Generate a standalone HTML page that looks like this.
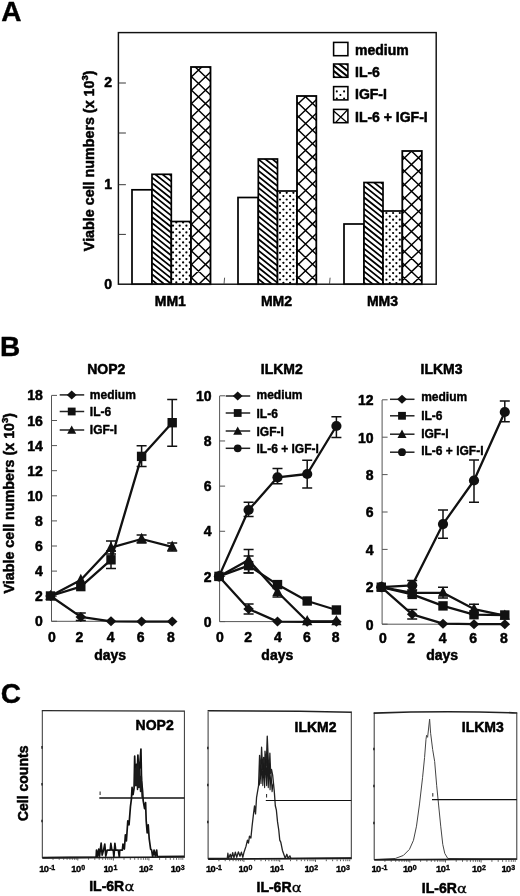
<!DOCTYPE html>
<html lang="en"><head><meta charset="utf-8"><title>Figure</title>
<style>html,body{margin:0;padding:0;background:#fff;}body{width:520px;height:896px;overflow:hidden;}svg{display:block;font-family:'Liberation Sans', Arial, Helvetica, sans-serif;}</style>
</head><body>
<svg width="520" height="896" viewBox="0 0 520 896">
<rect x="0" y="0" width="520" height="896" fill="#fff"/>
<text x="1.3" y="21.2" font-size="28" font-weight="bold" text-anchor="start" fill="#000" stroke="#000" stroke-width="0.4" stroke-linejoin="round" >A</text>
<rect x="132" y="189.8" width="20.00" height="94.40" fill="#fff"/><rect x="132" y="189.8" width="20.00" height="94.40" fill="none" stroke="#000" stroke-width="1.7"/>
<rect x="152" y="174.3" width="19.30" height="109.90" fill="#fff"/><clipPath id="c1"><rect x="152" y="174.3" width="19.30" height="109.90"/></clipPath><path d="M152.00,160.30 L171.30,175.74 M152.00,166.00 L171.30,181.44 M152.00,171.70 L171.30,187.14 M152.00,177.40 L171.30,192.84 M152.00,183.10 L171.30,198.54 M152.00,188.80 L171.30,204.24 M152.00,194.50 L171.30,209.94 M152.00,200.20 L171.30,215.64 M152.00,205.90 L171.30,221.34 M152.00,211.60 L171.30,227.04 M152.00,217.30 L171.30,232.74 M152.00,223.00 L171.30,238.44 M152.00,228.70 L171.30,244.14 M152.00,234.40 L171.30,249.84 M152.00,240.10 L171.30,255.54 M152.00,245.80 L171.30,261.24 M152.00,251.50 L171.30,266.94 M152.00,257.20 L171.30,272.64 M152.00,262.90 L171.30,278.34 M152.00,268.60 L171.30,284.04 M152.00,274.30 L171.30,289.74 M152.00,280.00 L171.30,295.44 M152.00,285.70 L171.30,301.14 " stroke="#000" stroke-width="1.75" fill="none" clip-path="url(#c1)"/><rect x="152" y="174.3" width="19.30" height="109.90" fill="none" stroke="#000" stroke-width="1.7"/>
<rect x="171.3" y="221.5" width="19.70" height="62.70" fill="#fff"/><clipPath id="c2"><rect x="171.3" y="221.5" width="19.70" height="62.70"/></clipPath><g fill="#000" clip-path="url(#c2)"><circle cx="176.3" cy="222.4" r="1.12"/><circle cx="183.1" cy="222.4" r="1.12"/><circle cx="189.8" cy="222.4" r="1.12"/><circle cx="173.0" cy="225.7" r="1.12"/><circle cx="179.7" cy="225.7" r="1.12"/><circle cx="186.4" cy="225.7" r="1.12"/><circle cx="176.3" cy="229.0" r="1.12"/><circle cx="183.1" cy="229.0" r="1.12"/><circle cx="189.8" cy="229.0" r="1.12"/><circle cx="173.0" cy="232.4" r="1.12"/><circle cx="179.7" cy="232.4" r="1.12"/><circle cx="186.4" cy="232.4" r="1.12"/><circle cx="176.3" cy="235.7" r="1.12"/><circle cx="183.1" cy="235.7" r="1.12"/><circle cx="189.8" cy="235.7" r="1.12"/><circle cx="173.0" cy="239.0" r="1.12"/><circle cx="179.7" cy="239.0" r="1.12"/><circle cx="186.4" cy="239.0" r="1.12"/><circle cx="176.3" cy="242.4" r="1.12"/><circle cx="183.1" cy="242.4" r="1.12"/><circle cx="189.8" cy="242.4" r="1.12"/><circle cx="173.0" cy="245.7" r="1.12"/><circle cx="179.7" cy="245.7" r="1.12"/><circle cx="186.4" cy="245.7" r="1.12"/><circle cx="176.3" cy="249.0" r="1.12"/><circle cx="183.1" cy="249.0" r="1.12"/><circle cx="189.8" cy="249.0" r="1.12"/><circle cx="173.0" cy="252.4" r="1.12"/><circle cx="179.7" cy="252.4" r="1.12"/><circle cx="186.4" cy="252.4" r="1.12"/><circle cx="176.3" cy="255.7" r="1.12"/><circle cx="183.1" cy="255.7" r="1.12"/><circle cx="189.8" cy="255.7" r="1.12"/><circle cx="173.0" cy="259.1" r="1.12"/><circle cx="179.7" cy="259.1" r="1.12"/><circle cx="186.4" cy="259.1" r="1.12"/><circle cx="176.3" cy="262.4" r="1.12"/><circle cx="183.1" cy="262.4" r="1.12"/><circle cx="189.8" cy="262.4" r="1.12"/><circle cx="173.0" cy="265.7" r="1.12"/><circle cx="179.7" cy="265.7" r="1.12"/><circle cx="186.4" cy="265.7" r="1.12"/><circle cx="176.3" cy="269.1" r="1.12"/><circle cx="183.1" cy="269.1" r="1.12"/><circle cx="189.8" cy="269.1" r="1.12"/><circle cx="173.0" cy="272.4" r="1.12"/><circle cx="179.7" cy="272.4" r="1.12"/><circle cx="186.4" cy="272.4" r="1.12"/><circle cx="176.3" cy="275.7" r="1.12"/><circle cx="183.1" cy="275.7" r="1.12"/><circle cx="189.8" cy="275.7" r="1.12"/><circle cx="173.0" cy="279.1" r="1.12"/><circle cx="179.7" cy="279.1" r="1.12"/><circle cx="186.4" cy="279.1" r="1.12"/><circle cx="176.3" cy="282.4" r="1.12"/><circle cx="183.1" cy="282.4" r="1.12"/><circle cx="189.8" cy="282.4" r="1.12"/><circle cx="173.0" cy="285.7" r="1.12"/><circle cx="179.7" cy="285.7" r="1.12"/><circle cx="186.4" cy="285.7" r="1.12"/></g><rect x="171.3" y="221.5" width="19.70" height="62.70" fill="none" stroke="#000" stroke-width="1.7"/>
<rect x="191" y="67" width="19.50" height="217.20" fill="#fff"/><clipPath id="c3"><rect x="191" y="67" width="19.50" height="217.20"/></clipPath><path d="M191.00,9.32 L210.50,27.99 M191.00,23.68 L210.50,5.01 M191.00,22.72 L210.50,41.39 M191.00,37.08 L210.50,18.41 M191.00,36.12 L210.50,54.79 M191.00,50.48 L210.50,31.81 M191.00,49.52 L210.50,68.19 M191.00,63.88 L210.50,45.21 M191.00,62.92 L210.50,81.59 M191.00,77.28 L210.50,58.61 M191.00,76.32 L210.50,94.99 M191.00,90.68 L210.50,72.01 M191.00,89.72 L210.50,108.39 M191.00,104.08 L210.50,85.41 M191.00,103.12 L210.50,121.79 M191.00,117.48 L210.50,98.81 M191.00,116.52 L210.50,135.19 M191.00,130.88 L210.50,112.21 M191.00,129.92 L210.50,148.59 M191.00,144.28 L210.50,125.61 M191.00,143.32 L210.50,161.99 M191.00,157.68 L210.50,139.01 M191.00,156.72 L210.50,175.39 M191.00,171.08 L210.50,152.41 M191.00,170.12 L210.50,188.79 M191.00,184.48 L210.50,165.81 M191.00,183.52 L210.50,202.19 M191.00,197.88 L210.50,179.21 M191.00,196.92 L210.50,215.59 M191.00,211.28 L210.50,192.61 M191.00,210.32 L210.50,228.99 M191.00,224.68 L210.50,206.01 M191.00,223.72 L210.50,242.39 M191.00,238.08 L210.50,219.41 M191.00,237.12 L210.50,255.79 M191.00,251.48 L210.50,232.81 M191.00,250.52 L210.50,269.19 M191.00,264.88 L210.50,246.21 M191.00,263.92 L210.50,282.59 M191.00,278.28 L210.50,259.61 M191.00,277.32 L210.50,295.99 M191.00,291.68 L210.50,273.01 " stroke="#000" stroke-width="1.45" fill="none" clip-path="url(#c3)"/><rect x="191" y="67" width="19.50" height="217.20" fill="none" stroke="#000" stroke-width="1.8"/>
<rect x="238" y="197.5" width="20.30" height="86.70" fill="#fff"/><rect x="238" y="197.5" width="20.30" height="86.70" fill="none" stroke="#000" stroke-width="1.7"/>
<rect x="258.3" y="159" width="19.20" height="125.20" fill="#fff"/><clipPath id="c5"><rect x="258.3" y="159" width="19.20" height="125.20"/></clipPath><path d="M258.30,142.14 L277.50,157.50 M258.30,147.84 L277.50,163.20 M258.30,153.54 L277.50,168.90 M258.30,159.24 L277.50,174.60 M258.30,164.94 L277.50,180.30 M258.30,170.64 L277.50,186.00 M258.30,176.34 L277.50,191.70 M258.30,182.04 L277.50,197.40 M258.30,187.74 L277.50,203.10 M258.30,193.44 L277.50,208.80 M258.30,199.14 L277.50,214.50 M258.30,204.84 L277.50,220.20 M258.30,210.54 L277.50,225.90 M258.30,216.24 L277.50,231.60 M258.30,221.94 L277.50,237.30 M258.30,227.64 L277.50,243.00 M258.30,233.34 L277.50,248.70 M258.30,239.04 L277.50,254.40 M258.30,244.74 L277.50,260.10 M258.30,250.44 L277.50,265.80 M258.30,256.14 L277.50,271.50 M258.30,261.84 L277.50,277.20 M258.30,267.54 L277.50,282.90 M258.30,273.24 L277.50,288.60 M258.30,278.94 L277.50,294.30 M258.30,284.64 L277.50,300.00 " stroke="#000" stroke-width="1.75" fill="none" clip-path="url(#c5)"/><rect x="258.3" y="159" width="19.20" height="125.20" fill="none" stroke="#000" stroke-width="1.7"/>
<rect x="277.5" y="191" width="19.50" height="93.20" fill="#fff"/><clipPath id="c6"><rect x="277.5" y="191" width="19.50" height="93.20"/></clipPath><g fill="#000" clip-path="url(#c6)"><circle cx="280.0" cy="192.8" r="1.12"/><circle cx="286.7" cy="192.8" r="1.12"/><circle cx="293.4" cy="192.8" r="1.12"/><circle cx="276.6" cy="196.1" r="1.12"/><circle cx="283.4" cy="196.1" r="1.12"/><circle cx="290.1" cy="196.1" r="1.12"/><circle cx="296.8" cy="196.1" r="1.12"/><circle cx="280.0" cy="199.5" r="1.12"/><circle cx="286.7" cy="199.5" r="1.12"/><circle cx="293.4" cy="199.5" r="1.12"/><circle cx="276.6" cy="202.8" r="1.12"/><circle cx="283.4" cy="202.8" r="1.12"/><circle cx="290.1" cy="202.8" r="1.12"/><circle cx="296.8" cy="202.8" r="1.12"/><circle cx="280.0" cy="206.1" r="1.12"/><circle cx="286.7" cy="206.1" r="1.12"/><circle cx="293.4" cy="206.1" r="1.12"/><circle cx="276.6" cy="209.5" r="1.12"/><circle cx="283.4" cy="209.5" r="1.12"/><circle cx="290.1" cy="209.5" r="1.12"/><circle cx="296.8" cy="209.5" r="1.12"/><circle cx="280.0" cy="212.8" r="1.12"/><circle cx="286.7" cy="212.8" r="1.12"/><circle cx="293.4" cy="212.8" r="1.12"/><circle cx="276.6" cy="216.1" r="1.12"/><circle cx="283.4" cy="216.1" r="1.12"/><circle cx="290.1" cy="216.1" r="1.12"/><circle cx="296.8" cy="216.1" r="1.12"/><circle cx="280.0" cy="219.5" r="1.12"/><circle cx="286.7" cy="219.5" r="1.12"/><circle cx="293.4" cy="219.5" r="1.12"/><circle cx="276.6" cy="222.8" r="1.12"/><circle cx="283.4" cy="222.8" r="1.12"/><circle cx="290.1" cy="222.8" r="1.12"/><circle cx="296.8" cy="222.8" r="1.12"/><circle cx="280.0" cy="226.2" r="1.12"/><circle cx="286.7" cy="226.2" r="1.12"/><circle cx="293.4" cy="226.2" r="1.12"/><circle cx="276.6" cy="229.5" r="1.12"/><circle cx="283.4" cy="229.5" r="1.12"/><circle cx="290.1" cy="229.5" r="1.12"/><circle cx="296.8" cy="229.5" r="1.12"/><circle cx="280.0" cy="232.8" r="1.12"/><circle cx="286.7" cy="232.8" r="1.12"/><circle cx="293.4" cy="232.8" r="1.12"/><circle cx="276.6" cy="236.2" r="1.12"/><circle cx="283.4" cy="236.2" r="1.12"/><circle cx="290.1" cy="236.2" r="1.12"/><circle cx="296.8" cy="236.2" r="1.12"/><circle cx="280.0" cy="239.5" r="1.12"/><circle cx="286.7" cy="239.5" r="1.12"/><circle cx="293.4" cy="239.5" r="1.12"/><circle cx="276.6" cy="242.8" r="1.12"/><circle cx="283.4" cy="242.8" r="1.12"/><circle cx="290.1" cy="242.8" r="1.12"/><circle cx="296.8" cy="242.8" r="1.12"/><circle cx="280.0" cy="246.2" r="1.12"/><circle cx="286.7" cy="246.2" r="1.12"/><circle cx="293.4" cy="246.2" r="1.12"/><circle cx="276.6" cy="249.5" r="1.12"/><circle cx="283.4" cy="249.5" r="1.12"/><circle cx="290.1" cy="249.5" r="1.12"/><circle cx="296.8" cy="249.5" r="1.12"/><circle cx="280.0" cy="252.8" r="1.12"/><circle cx="286.7" cy="252.8" r="1.12"/><circle cx="293.4" cy="252.8" r="1.12"/><circle cx="276.6" cy="256.2" r="1.12"/><circle cx="283.4" cy="256.2" r="1.12"/><circle cx="290.1" cy="256.2" r="1.12"/><circle cx="296.8" cy="256.2" r="1.12"/><circle cx="280.0" cy="259.5" r="1.12"/><circle cx="286.7" cy="259.5" r="1.12"/><circle cx="293.4" cy="259.5" r="1.12"/><circle cx="276.6" cy="262.8" r="1.12"/><circle cx="283.4" cy="262.8" r="1.12"/><circle cx="290.1" cy="262.8" r="1.12"/><circle cx="296.8" cy="262.8" r="1.12"/><circle cx="280.0" cy="266.2" r="1.12"/><circle cx="286.7" cy="266.2" r="1.12"/><circle cx="293.4" cy="266.2" r="1.12"/><circle cx="276.6" cy="269.5" r="1.12"/><circle cx="283.4" cy="269.5" r="1.12"/><circle cx="290.1" cy="269.5" r="1.12"/><circle cx="296.8" cy="269.5" r="1.12"/><circle cx="280.0" cy="272.8" r="1.12"/><circle cx="286.7" cy="272.8" r="1.12"/><circle cx="293.4" cy="272.8" r="1.12"/><circle cx="276.6" cy="276.2" r="1.12"/><circle cx="283.4" cy="276.2" r="1.12"/><circle cx="290.1" cy="276.2" r="1.12"/><circle cx="296.8" cy="276.2" r="1.12"/><circle cx="280.0" cy="279.5" r="1.12"/><circle cx="286.7" cy="279.5" r="1.12"/><circle cx="293.4" cy="279.5" r="1.12"/><circle cx="276.6" cy="282.8" r="1.12"/><circle cx="283.4" cy="282.8" r="1.12"/><circle cx="290.1" cy="282.8" r="1.12"/><circle cx="296.8" cy="282.8" r="1.12"/><circle cx="280.0" cy="286.2" r="1.12"/><circle cx="286.7" cy="286.2" r="1.12"/><circle cx="293.4" cy="286.2" r="1.12"/></g><rect x="277.5" y="191" width="19.50" height="93.20" fill="none" stroke="#000" stroke-width="1.7"/>
<rect x="297" y="96" width="19.30" height="188.20" fill="#fff"/><clipPath id="c7"><rect x="297" y="96" width="19.30" height="188.20"/></clipPath><path d="M297.00,34.96 L316.30,53.44 M297.00,51.24 L316.30,32.76 M297.00,48.36 L316.30,66.84 M297.00,64.64 L316.30,46.16 M297.00,61.76 L316.30,80.24 M297.00,78.04 L316.30,59.56 M297.00,75.16 L316.30,93.64 M297.00,91.44 L316.30,72.96 M297.00,88.56 L316.30,107.04 M297.00,104.84 L316.30,86.36 M297.00,101.96 L316.30,120.44 M297.00,118.24 L316.30,99.76 M297.00,115.36 L316.30,133.84 M297.00,131.64 L316.30,113.16 M297.00,128.76 L316.30,147.24 M297.00,145.04 L316.30,126.56 M297.00,142.16 L316.30,160.64 M297.00,158.44 L316.30,139.96 M297.00,155.56 L316.30,174.04 M297.00,171.84 L316.30,153.36 M297.00,168.96 L316.30,187.44 M297.00,185.24 L316.30,166.76 M297.00,182.36 L316.30,200.84 M297.00,198.64 L316.30,180.16 M297.00,195.76 L316.30,214.24 M297.00,212.04 L316.30,193.56 M297.00,209.16 L316.30,227.64 M297.00,225.44 L316.30,206.96 M297.00,222.56 L316.30,241.04 M297.00,238.84 L316.30,220.36 M297.00,235.96 L316.30,254.44 M297.00,252.24 L316.30,233.76 M297.00,249.36 L316.30,267.84 M297.00,265.64 L316.30,247.16 M297.00,262.76 L316.30,281.24 M297.00,279.04 L316.30,260.56 M297.00,276.16 L316.30,294.64 M297.00,292.44 L316.30,273.96 " stroke="#000" stroke-width="1.45" fill="none" clip-path="url(#c7)"/><rect x="297" y="96" width="19.30" height="188.20" fill="none" stroke="#000" stroke-width="1.8"/>
<rect x="344" y="224" width="20.00" height="60.20" fill="#fff"/><rect x="344" y="224" width="20.00" height="60.20" fill="none" stroke="#000" stroke-width="1.7"/>
<rect x="364" y="182.5" width="19.00" height="101.70" fill="#fff"/><clipPath id="c9"><rect x="364" y="182.5" width="19.00" height="101.70"/></clipPath><path d="M364.00,168.76 L383.00,183.96 M364.00,174.46 L383.00,189.66 M364.00,180.16 L383.00,195.36 M364.00,185.86 L383.00,201.06 M364.00,191.56 L383.00,206.76 M364.00,197.26 L383.00,212.46 M364.00,202.96 L383.00,218.16 M364.00,208.66 L383.00,223.86 M364.00,214.36 L383.00,229.56 M364.00,220.06 L383.00,235.26 M364.00,225.76 L383.00,240.96 M364.00,231.46 L383.00,246.66 M364.00,237.16 L383.00,252.36 M364.00,242.86 L383.00,258.06 M364.00,248.56 L383.00,263.76 M364.00,254.26 L383.00,269.46 M364.00,259.96 L383.00,275.16 M364.00,265.66 L383.00,280.86 M364.00,271.36 L383.00,286.56 M364.00,277.06 L383.00,292.26 M364.00,282.76 L383.00,297.96 " stroke="#000" stroke-width="1.75" fill="none" clip-path="url(#c9)"/><rect x="364" y="182.5" width="19.00" height="101.70" fill="none" stroke="#000" stroke-width="1.7"/>
<rect x="383" y="211" width="19.30" height="73.20" fill="#fff"/><clipPath id="c10"><rect x="383" y="211" width="19.30" height="73.20"/></clipPath><g fill="#000" clip-path="url(#c10)"><circle cx="386.4" cy="213.0" r="1.12"/><circle cx="393.1" cy="213.0" r="1.12"/><circle cx="399.8" cy="213.0" r="1.12"/><circle cx="383.0" cy="216.4" r="1.12"/><circle cx="389.8" cy="216.4" r="1.12"/><circle cx="396.4" cy="216.4" r="1.12"/><circle cx="403.1" cy="216.4" r="1.12"/><circle cx="386.4" cy="219.7" r="1.12"/><circle cx="393.1" cy="219.7" r="1.12"/><circle cx="399.8" cy="219.7" r="1.12"/><circle cx="383.0" cy="223.0" r="1.12"/><circle cx="389.8" cy="223.0" r="1.12"/><circle cx="396.4" cy="223.0" r="1.12"/><circle cx="403.1" cy="223.0" r="1.12"/><circle cx="386.4" cy="226.4" r="1.12"/><circle cx="393.1" cy="226.4" r="1.12"/><circle cx="399.8" cy="226.4" r="1.12"/><circle cx="383.0" cy="229.7" r="1.12"/><circle cx="389.8" cy="229.7" r="1.12"/><circle cx="396.4" cy="229.7" r="1.12"/><circle cx="403.1" cy="229.7" r="1.12"/><circle cx="386.4" cy="233.0" r="1.12"/><circle cx="393.1" cy="233.0" r="1.12"/><circle cx="399.8" cy="233.0" r="1.12"/><circle cx="383.0" cy="236.4" r="1.12"/><circle cx="389.8" cy="236.4" r="1.12"/><circle cx="396.4" cy="236.4" r="1.12"/><circle cx="403.1" cy="236.4" r="1.12"/><circle cx="386.4" cy="239.7" r="1.12"/><circle cx="393.1" cy="239.7" r="1.12"/><circle cx="399.8" cy="239.7" r="1.12"/><circle cx="383.0" cy="243.0" r="1.12"/><circle cx="389.8" cy="243.0" r="1.12"/><circle cx="396.4" cy="243.0" r="1.12"/><circle cx="403.1" cy="243.0" r="1.12"/><circle cx="386.4" cy="246.4" r="1.12"/><circle cx="393.1" cy="246.4" r="1.12"/><circle cx="399.8" cy="246.4" r="1.12"/><circle cx="383.0" cy="249.7" r="1.12"/><circle cx="389.8" cy="249.7" r="1.12"/><circle cx="396.4" cy="249.7" r="1.12"/><circle cx="403.1" cy="249.7" r="1.12"/><circle cx="386.4" cy="253.0" r="1.12"/><circle cx="393.1" cy="253.0" r="1.12"/><circle cx="399.8" cy="253.0" r="1.12"/><circle cx="383.0" cy="256.4" r="1.12"/><circle cx="389.8" cy="256.4" r="1.12"/><circle cx="396.4" cy="256.4" r="1.12"/><circle cx="403.1" cy="256.4" r="1.12"/><circle cx="386.4" cy="259.7" r="1.12"/><circle cx="393.1" cy="259.7" r="1.12"/><circle cx="399.8" cy="259.7" r="1.12"/><circle cx="383.0" cy="263.1" r="1.12"/><circle cx="389.8" cy="263.1" r="1.12"/><circle cx="396.4" cy="263.1" r="1.12"/><circle cx="403.1" cy="263.1" r="1.12"/><circle cx="386.4" cy="266.4" r="1.12"/><circle cx="393.1" cy="266.4" r="1.12"/><circle cx="399.8" cy="266.4" r="1.12"/><circle cx="383.0" cy="269.7" r="1.12"/><circle cx="389.8" cy="269.7" r="1.12"/><circle cx="396.4" cy="269.7" r="1.12"/><circle cx="403.1" cy="269.7" r="1.12"/><circle cx="386.4" cy="273.1" r="1.12"/><circle cx="393.1" cy="273.1" r="1.12"/><circle cx="399.8" cy="273.1" r="1.12"/><circle cx="383.0" cy="276.4" r="1.12"/><circle cx="389.8" cy="276.4" r="1.12"/><circle cx="396.4" cy="276.4" r="1.12"/><circle cx="403.1" cy="276.4" r="1.12"/><circle cx="386.4" cy="279.7" r="1.12"/><circle cx="393.1" cy="279.7" r="1.12"/><circle cx="399.8" cy="279.7" r="1.12"/><circle cx="383.0" cy="283.1" r="1.12"/><circle cx="389.8" cy="283.1" r="1.12"/><circle cx="396.4" cy="283.1" r="1.12"/><circle cx="403.1" cy="283.1" r="1.12"/></g><rect x="383" y="211" width="19.30" height="73.20" fill="none" stroke="#000" stroke-width="1.7"/>
<rect x="402.3" y="151" width="19.50" height="133.20" fill="#fff"/><clipPath id="c11"><rect x="402.3" y="151" width="19.50" height="133.20"/></clipPath><path d="M402.30,102.09 L421.80,120.76 M402.30,119.71 L421.80,101.04 M402.30,115.49 L421.80,134.16 M402.30,133.11 L421.80,114.44 M402.30,128.89 L421.80,147.56 M402.30,146.51 L421.80,127.84 M402.30,142.29 L421.80,160.96 M402.30,159.91 L421.80,141.24 M402.30,155.69 L421.80,174.36 M402.30,173.31 L421.80,154.64 M402.30,169.09 L421.80,187.76 M402.30,186.71 L421.80,168.04 M402.30,182.49 L421.80,201.16 M402.30,200.11 L421.80,181.44 M402.30,195.89 L421.80,214.56 M402.30,213.51 L421.80,194.84 M402.30,209.29 L421.80,227.96 M402.30,226.91 L421.80,208.24 M402.30,222.69 L421.80,241.36 M402.30,240.31 L421.80,221.64 M402.30,236.09 L421.80,254.76 M402.30,253.71 L421.80,235.04 M402.30,249.49 L421.80,268.16 M402.30,267.11 L421.80,248.44 M402.30,262.89 L421.80,281.56 M402.30,280.51 L421.80,261.84 M402.30,276.29 L421.80,294.96 M402.30,293.91 L421.80,275.24 " stroke="#000" stroke-width="1.45" fill="none" clip-path="url(#c11)"/><rect x="402.3" y="151" width="19.50" height="133.20" fill="none" stroke="#000" stroke-width="1.8"/>
<rect x="118.4" y="32.6" width="317.80" height="251.60" fill="none" stroke="#111" stroke-width="1.45"/>
<line x1="118.4" y1="83.0" x2="125.9" y2="83.0" stroke="#222" stroke-width="0.9"/>
<line x1="118.4" y1="133.0" x2="125.9" y2="133.0" stroke="#222" stroke-width="0.9"/>
<line x1="118.4" y1="184.7" x2="125.9" y2="184.7" stroke="#222" stroke-width="0.9"/>
<line x1="118.4" y1="234.4" x2="125.9" y2="234.4" stroke="#222" stroke-width="0.9"/>
<line x1="224" y1="284.2" x2="224.6" y2="277.7" stroke="#444" stroke-width="0.9"/>
<line x1="329.5" y1="284.2" x2="330.1" y2="277.7" stroke="#444" stroke-width="0.9"/>
<text x="112" y="86.8" font-size="14" font-weight="bold" text-anchor="end" fill="#000" stroke="#000" stroke-width="0.5" stroke-linejoin="round" >2</text>
<text x="112" y="188.6" font-size="14" font-weight="bold" text-anchor="end" fill="#000" stroke="#000" stroke-width="0.5" stroke-linejoin="round" >1</text>
<text x="112" y="289.1" font-size="14" font-weight="bold" text-anchor="end" fill="#000" stroke="#000" stroke-width="0.5" stroke-linejoin="round" >0</text>
<text x="170.3" y="306.3" font-size="14" font-weight="bold" text-anchor="middle" fill="#000" stroke="#000" stroke-width="0.5" stroke-linejoin="round" >MM1</text>
<text x="276.5" y="306.3" font-size="14" font-weight="bold" text-anchor="middle" fill="#000" stroke="#000" stroke-width="0.5" stroke-linejoin="round" >MM2</text>
<text x="382.5" y="306.3" font-size="14" font-weight="bold" text-anchor="middle" fill="#000" stroke="#000" stroke-width="0.5" stroke-linejoin="round" >MM3</text>
<text transform="translate(93.5 160.8) rotate(-90)" font-size="14.3" font-weight="bold" text-anchor="middle" stroke="#000" stroke-width="0.5" stroke-linejoin="round">Viable cell numbers (x 10<tspan font-size="9.5" dy="-5.3">3</tspan><tspan dy="5.3">)</tspan></text>
<rect x="333.6" y="42.4" width="14.3" height="13.3" fill="#fff"/>
<rect x="333.6" y="42.4" width="14.3" height="13.3" fill="none" stroke="#000" stroke-width="1.55"/>
<text x="355" y="55.1" font-size="14" font-weight="bold" text-anchor="start" fill="#000" stroke="#000" stroke-width="0.5" stroke-linejoin="round" >medium</text>
<rect x="333.6" y="64.0" width="14.3" height="13.3" fill="#fff"/>
<clipPath id="lg1"><rect x="333.6" y="64.0" width="14.3" height="13.3"/></clipPath>
<path d="M333.6,42.40 L347.90000000000003,53.84 M333.6,48.10 L347.90000000000003,59.54 M333.6,53.80 L347.90000000000003,65.24 M333.6,59.50 L347.90000000000003,70.94 M333.6,65.20 L347.90000000000003,76.64 M333.6,70.90 L347.90000000000003,82.34 M333.6,76.60 L347.90000000000003,88.04 M333.6,82.30 L347.90000000000003,93.74 M333.6,88.00 L347.90000000000003,99.44 " stroke="#000" stroke-width="2" clip-path="url(#lg1)"/>
<rect x="333.6" y="64.0" width="14.3" height="13.3" fill="none" stroke="#000" stroke-width="1.55"/>
<text x="355" y="76.7" font-size="14" font-weight="bold" text-anchor="start" fill="#000" stroke="#000" stroke-width="0.5" stroke-linejoin="round" >IL-6</text>
<rect x="333.6" y="86.6" width="14.3" height="13.3" fill="#fff"/>
<clipPath id="lg2"><rect x="333.6" y="86.6" width="14.3" height="13.3"/></clipPath><g clip-path="url(#lg2)"><circle cx="336.80" cy="91.40" r="1.05"/><circle cx="344.10" cy="91.40" r="1.05"/><circle cx="340.40" cy="95.00" r="1.05"/><circle cx="336.80" cy="98.50" r="1.05"/><circle cx="344.10" cy="98.50" r="1.05"/></g>
<rect x="333.6" y="86.6" width="14.3" height="13.3" fill="none" stroke="#000" stroke-width="1.55"/>
<text x="355" y="99.4" font-size="14" font-weight="bold" text-anchor="start" fill="#000" stroke="#000" stroke-width="0.5" stroke-linejoin="round" >IGF-I</text>
<rect x="333.6" y="109.4" width="14.3" height="13.3" fill="#fff"/>
<clipPath id="lg3"><rect x="333.6" y="109.4" width="14.3" height="13.3"/></clipPath>
<path d="M333.6,110.9 L347.90000000000003,123.2 M347.90000000000003,109.4 L333.6,124.7" stroke="#000" stroke-width="1.3" clip-path="url(#lg3)"/>
<rect x="333.6" y="109.4" width="14.3" height="13.3" fill="none" stroke="#000" stroke-width="1.55"/>
<text x="355" y="122.0" font-size="14" font-weight="bold" text-anchor="start" fill="#000" stroke="#000" stroke-width="0.5" stroke-linejoin="round" >IL-6 + IGF-I</text>
<text x="0.1" y="355.8" font-size="28" font-weight="bold" text-anchor="start" fill="#000" stroke="#000" stroke-width="0.4" stroke-linejoin="round" >B</text>
<path d="M51.5,395.5 L51.5,621.3 L173.2,621.3" stroke="#555" stroke-width="1" fill="none"/><line x1="51.5" y1="621.30" x2="57.0" y2="621.30" stroke="#555" stroke-width="1"/><text x="42.8" y="626.3" font-size="14" font-weight="bold" text-anchor="end" fill="#000" stroke="#000" stroke-width="0.5" stroke-linejoin="round" >0</text><line x1="51.5" y1="596.20" x2="57.0" y2="596.20" stroke="#555" stroke-width="1"/><text x="42.8" y="601.2" font-size="14" font-weight="bold" text-anchor="end" fill="#000" stroke="#000" stroke-width="0.5" stroke-linejoin="round" >2</text><line x1="51.5" y1="571.10" x2="57.0" y2="571.10" stroke="#555" stroke-width="1"/><text x="42.8" y="576.1" font-size="14" font-weight="bold" text-anchor="end" fill="#000" stroke="#000" stroke-width="0.5" stroke-linejoin="round" >4</text><line x1="51.5" y1="546.00" x2="57.0" y2="546.00" stroke="#555" stroke-width="1"/><text x="42.8" y="551.0" font-size="14" font-weight="bold" text-anchor="end" fill="#000" stroke="#000" stroke-width="0.5" stroke-linejoin="round" >6</text><line x1="51.5" y1="520.90" x2="57.0" y2="520.90" stroke="#555" stroke-width="1"/><text x="42.8" y="525.9" font-size="14" font-weight="bold" text-anchor="end" fill="#000" stroke="#000" stroke-width="0.5" stroke-linejoin="round" >8</text><line x1="51.5" y1="495.80" x2="57.0" y2="495.80" stroke="#555" stroke-width="1"/><text x="42.8" y="500.8" font-size="14" font-weight="bold" text-anchor="end" fill="#000" stroke="#000" stroke-width="0.5" stroke-linejoin="round" >10</text><line x1="51.5" y1="470.70" x2="57.0" y2="470.70" stroke="#555" stroke-width="1"/><text x="42.8" y="475.7" font-size="14" font-weight="bold" text-anchor="end" fill="#000" stroke="#000" stroke-width="0.5" stroke-linejoin="round" >12</text><line x1="51.5" y1="445.60" x2="57.0" y2="445.60" stroke="#555" stroke-width="1"/><text x="42.8" y="450.6" font-size="14" font-weight="bold" text-anchor="end" fill="#000" stroke="#000" stroke-width="0.5" stroke-linejoin="round" >14</text><line x1="51.5" y1="420.50" x2="57.0" y2="420.50" stroke="#555" stroke-width="1"/><text x="42.8" y="425.5" font-size="14" font-weight="bold" text-anchor="end" fill="#000" stroke="#000" stroke-width="0.5" stroke-linejoin="round" >16</text><line x1="51.5" y1="395.40" x2="57.0" y2="395.40" stroke="#555" stroke-width="1"/><text x="42.8" y="400.4" font-size="14" font-weight="bold" text-anchor="end" fill="#000" stroke="#000" stroke-width="0.5" stroke-linejoin="round" >18</text><text x="52" y="641.8" font-size="14" font-weight="bold" text-anchor="middle" fill="#000" stroke="#000" stroke-width="0.5" stroke-linejoin="round" >0</text><text x="79.5" y="641.8" font-size="14" font-weight="bold" text-anchor="middle" fill="#000" stroke="#000" stroke-width="0.5" stroke-linejoin="round" >2</text><text x="110.6" y="641.8" font-size="14" font-weight="bold" text-anchor="middle" fill="#000" stroke="#000" stroke-width="0.5" stroke-linejoin="round" >4</text><text x="140.6" y="641.8" font-size="14" font-weight="bold" text-anchor="middle" fill="#000" stroke="#000" stroke-width="0.5" stroke-linejoin="round" >6</text><text x="170.8" y="641.8" font-size="14" font-weight="bold" text-anchor="middle" fill="#000" stroke="#000" stroke-width="0.5" stroke-linejoin="round" >8</text><text x="110.2" y="659.8" font-size="14" font-weight="bold" text-anchor="middle" fill="#000" stroke="#000" stroke-width="0.5" stroke-linejoin="round" >days</text><text x="106.3" y="373.8" font-size="14" font-weight="bold" text-anchor="middle" fill="#000" stroke="#000" stroke-width="0.5" stroke-linejoin="round" >NOP2</text><path d="M50.50,596.00 L80.80,616.90 L111.00,621.30 L141.60,621.60 L172.20,621.60" stroke="#111" stroke-width="2.3" fill="none" stroke-linejoin="round"/><path d="M80.80,613.00 L80.80,620.50 M75.80,613.00 L85.80,613.00 M75.80,620.50 L85.80,620.50" stroke="#111" stroke-width="1.5" fill="none"/><path d="M45.20,596.00 L50.50,591.00 L55.80,596.00 L50.50,601.00 Z" fill="#111"/><path d="M75.50,616.90 L80.80,611.90 L86.10,616.90 L80.80,621.90 Z" fill="#111"/><path d="M105.70,621.30 L111.00,616.30 L116.30,621.30 L111.00,626.30 Z" fill="#111"/><path d="M136.30,621.60 L141.60,616.60 L146.90,621.60 L141.60,626.60 Z" fill="#111"/><path d="M166.90,621.60 L172.20,616.60 L177.50,621.60 L172.20,626.60 Z" fill="#111"/><path d="M50.50,596.00 L80.80,580.00 L111.00,547.70 L141.60,539.00 L172.20,546.80" stroke="#111" stroke-width="2.3" fill="none" stroke-linejoin="round"/><path d="M111.00,541.00 L111.00,554.00 M106.00,541.00 L116.00,541.00 M106.00,554.00 L116.00,554.00" stroke="#111" stroke-width="1.5" fill="none"/><path d="M141.60,535.00 L141.60,543.00 M136.60,535.00 L146.60,535.00 M136.60,543.00 L146.60,543.00" stroke="#111" stroke-width="1.5" fill="none"/><path d="M172.20,543.00 L172.20,551.00 M167.20,543.00 L177.20,543.00 M167.20,551.00 L177.20,551.00" stroke="#111" stroke-width="1.5" fill="none"/><path d="M45.40,600.00 L50.50,589.80 L55.60,600.00 Z" fill="#111"/><path d="M75.70,584.00 L80.80,573.80 L85.90,584.00 Z" fill="#111"/><path d="M105.90,551.70 L111.00,541.50 L116.10,551.70 Z" fill="#111"/><path d="M136.50,543.00 L141.60,532.80 L146.70,543.00 Z" fill="#111"/><path d="M167.10,550.80 L172.20,540.60 L177.30,550.80 Z" fill="#111"/><path d="M50.50,596.00 L80.80,586.60 L111.00,559.80 L141.60,456.40 L172.20,422.70" stroke="#111" stroke-width="2.3" fill="none" stroke-linejoin="round"/><path d="M111.00,551.00 L111.00,568.50 M106.00,551.00 L116.00,551.00 M106.00,568.50 L116.00,568.50" stroke="#111" stroke-width="1.5" fill="none"/><path d="M141.60,445.80 L141.60,466.50 M136.60,445.80 L146.60,445.80 M136.60,466.50 L146.60,466.50" stroke="#111" stroke-width="1.5" fill="none"/><path d="M172.20,399.60 L172.20,446.30 M167.20,399.60 L177.20,399.60 M167.20,446.30 L177.20,446.30" stroke="#111" stroke-width="1.5" fill="none"/><rect x="45.80" y="591.30" width="9.40" height="9.40" fill="#111"/><rect x="76.10" y="581.90" width="9.40" height="9.40" fill="#111"/><rect x="106.30" y="555.10" width="9.40" height="9.40" fill="#111"/><rect x="136.90" y="451.70" width="9.40" height="9.40" fill="#111"/><rect x="167.50" y="418.00" width="9.40" height="9.40" fill="#111"/><line x1="59.7" y1="394.9" x2="84.2" y2="394.9" stroke="#222" stroke-width="1.5"/><path d="M66.80,394.90 L71.70,390.40 L76.60,394.90 L71.70,399.40 Z" fill="#111"/><text x="89.8" y="399.2" font-size="12" font-weight="bold" text-anchor="start" fill="#000" stroke="#000" stroke-width="0.4" stroke-linejoin="round" >medium</text><line x1="59.7" y1="411.5" x2="84.2" y2="411.5" stroke="#222" stroke-width="1.5"/><rect x="67.80" y="407.60" width="7.80" height="7.80" fill="#111"/><text x="89.8" y="416.0" font-size="12" font-weight="bold" text-anchor="start" fill="#000" stroke="#000" stroke-width="0.4" stroke-linejoin="round" >IL-6</text><line x1="59.7" y1="430.0" x2="84.2" y2="430.0" stroke="#222" stroke-width="1.5"/><path d="M67.20,433.70 L71.70,425.40 L76.20,433.70 Z" fill="#111"/><text x="89.8" y="433.8" font-size="12" font-weight="bold" text-anchor="start" fill="#000" stroke="#000" stroke-width="0.4" stroke-linejoin="round" >IGF-I</text>
<text transform="translate(13.7 503.2) rotate(-90)" font-size="14.3" font-weight="bold" text-anchor="middle" stroke="#000" stroke-width="0.5" stroke-linejoin="round">Viable cell numbers (x 10<tspan font-size="9.5" dy="-5.3">3</tspan><tspan dy="5.3">)</tspan></text>
<path d="M219.6,396 L219.6,621.6 L337.4,621.6" stroke="#555" stroke-width="1" fill="none"/><line x1="219.6" y1="621.60" x2="225.1" y2="621.60" stroke="#555" stroke-width="1"/><text x="211.5" y="626.8" font-size="14" font-weight="bold" text-anchor="end" fill="#000" stroke="#000" stroke-width="0.5" stroke-linejoin="round" >0</text><line x1="219.6" y1="576.44" x2="225.1" y2="576.44" stroke="#555" stroke-width="1"/><text x="211.5" y="581.64" font-size="14" font-weight="bold" text-anchor="end" fill="#000" stroke="#000" stroke-width="0.5" stroke-linejoin="round" >2</text><line x1="219.6" y1="531.28" x2="225.1" y2="531.28" stroke="#555" stroke-width="1"/><text x="211.5" y="536.48" font-size="14" font-weight="bold" text-anchor="end" fill="#000" stroke="#000" stroke-width="0.5" stroke-linejoin="round" >4</text><line x1="219.6" y1="486.12" x2="225.1" y2="486.12" stroke="#555" stroke-width="1"/><text x="211.5" y="491.32" font-size="14" font-weight="bold" text-anchor="end" fill="#000" stroke="#000" stroke-width="0.5" stroke-linejoin="round" >6</text><line x1="219.6" y1="440.96" x2="225.1" y2="440.96" stroke="#555" stroke-width="1"/><text x="211.5" y="446.16" font-size="14" font-weight="bold" text-anchor="end" fill="#000" stroke="#000" stroke-width="0.5" stroke-linejoin="round" >8</text><line x1="219.6" y1="395.80" x2="225.1" y2="395.80" stroke="#555" stroke-width="1"/><text x="211.5" y="401.0" font-size="14" font-weight="bold" text-anchor="end" fill="#000" stroke="#000" stroke-width="0.5" stroke-linejoin="round" >10</text><text x="220" y="641.8" font-size="14" font-weight="bold" text-anchor="middle" fill="#000" stroke="#000" stroke-width="0.5" stroke-linejoin="round" >0</text><text x="248.2" y="641.8" font-size="14" font-weight="bold" text-anchor="middle" fill="#000" stroke="#000" stroke-width="0.5" stroke-linejoin="round" >2</text><text x="278" y="641.8" font-size="14" font-weight="bold" text-anchor="middle" fill="#000" stroke="#000" stroke-width="0.5" stroke-linejoin="round" >4</text><text x="307" y="641.8" font-size="14" font-weight="bold" text-anchor="middle" fill="#000" stroke="#000" stroke-width="0.5" stroke-linejoin="round" >6</text><text x="335.6" y="641.8" font-size="14" font-weight="bold" text-anchor="middle" fill="#000" stroke="#000" stroke-width="0.5" stroke-linejoin="round" >8</text><text x="277.3" y="659.8" font-size="14" font-weight="bold" text-anchor="middle" fill="#000" stroke="#000" stroke-width="0.5" stroke-linejoin="round" >days</text><text x="281.8" y="374" font-size="14" font-weight="bold" text-anchor="middle" fill="#000" stroke="#000" stroke-width="0.5" stroke-linejoin="round" >ILKM2</text><path d="M219.00,576.40 L248.60,510.00 L277.50,477.30 L307.20,474.00 L336.40,426.00" stroke="#111" stroke-width="2.3" fill="none" stroke-linejoin="round"/><path d="M248.60,502.20 L248.60,516.60 M243.60,502.20 L253.60,502.20 M243.60,516.60 L253.60,516.60" stroke="#111" stroke-width="1.5" fill="none"/><path d="M277.50,468.50 L277.50,483.80 M272.50,468.50 L282.50,468.50 M272.50,483.80 L282.50,483.80" stroke="#111" stroke-width="1.5" fill="none"/><path d="M307.20,460.30 L307.20,488.00 M302.20,460.30 L312.20,460.30 M302.20,488.00 L312.20,488.00" stroke="#111" stroke-width="1.5" fill="none"/><path d="M336.40,416.80 L336.40,437.40 M331.40,416.80 L341.40,416.80 M331.40,437.40 L341.40,437.40" stroke="#111" stroke-width="1.5" fill="none"/><circle cx="219.00" cy="576.40" r="5.10" fill="#111"/><circle cx="248.60" cy="510.00" r="5.10" fill="#111"/><circle cx="277.50" cy="477.30" r="5.10" fill="#111"/><circle cx="307.20" cy="474.00" r="5.10" fill="#111"/><circle cx="336.40" cy="426.00" r="5.10" fill="#111"/><path d="M219.00,576.40 L248.60,609.00 L277.50,621.60 L307.20,621.80 L336.40,621.80" stroke="#111" stroke-width="2.3" fill="none" stroke-linejoin="round"/><path d="M248.60,604.00 L248.60,614.00 M243.60,604.00 L253.60,604.00 M243.60,614.00 L253.60,614.00" stroke="#111" stroke-width="1.5" fill="none"/><path d="M213.70,576.40 L219.00,571.40 L224.30,576.40 L219.00,581.40 Z" fill="#111"/><path d="M243.30,609.00 L248.60,604.00 L253.90,609.00 L248.60,614.00 Z" fill="#111"/><path d="M272.20,621.60 L277.50,616.60 L282.80,621.60 L277.50,626.60 Z" fill="#111"/><path d="M301.90,621.80 L307.20,616.80 L312.50,621.80 L307.20,626.80 Z" fill="#111"/><path d="M331.10,621.80 L336.40,616.80 L341.70,621.80 L336.40,626.80 Z" fill="#111"/><path d="M219.00,576.40 L248.60,560.00 L277.50,592.00 L307.20,621.30 L336.40,621.30" stroke="#111" stroke-width="2.3" fill="none" stroke-linejoin="round"/><path d="M248.60,549.60 L248.60,573.00 M243.60,549.60 L253.60,549.60 M243.60,573.00 L253.60,573.00" stroke="#111" stroke-width="1.5" fill="none"/><path d="M277.50,588.00 L277.50,597.00 M272.50,588.00 L282.50,588.00 M272.50,597.00 L282.50,597.00" stroke="#111" stroke-width="1.5" fill="none"/><path d="M213.90,580.40 L219.00,570.20 L224.10,580.40 Z" fill="#111"/><path d="M243.50,564.00 L248.60,553.80 L253.70,564.00 Z" fill="#111"/><path d="M272.40,596.00 L277.50,585.80 L282.60,596.00 Z" fill="#111"/><path d="M302.10,625.30 L307.20,615.10 L312.30,625.30 Z" fill="#111"/><path d="M331.30,625.30 L336.40,615.10 L341.50,625.30 Z" fill="#111"/><path d="M219.00,576.40 L248.60,565.60 L277.50,584.60 L307.20,601.00 L336.40,610.00" stroke="#111" stroke-width="2.3" fill="none" stroke-linejoin="round"/><path d="M248.60,556.00 L248.60,572.80 M243.60,556.00 L253.60,556.00 M243.60,572.80 L253.60,572.80" stroke="#111" stroke-width="1.5" fill="none"/><rect x="214.30" y="571.70" width="9.40" height="9.40" fill="#111"/><rect x="243.90" y="560.90" width="9.40" height="9.40" fill="#111"/><rect x="272.80" y="579.90" width="9.40" height="9.40" fill="#111"/><rect x="302.50" y="596.30" width="9.40" height="9.40" fill="#111"/><rect x="331.70" y="605.30" width="9.40" height="9.40" fill="#111"/><line x1="225.7" y1="396.0" x2="250.2" y2="396.0" stroke="#222" stroke-width="1.5"/><path d="M232.80,396.00 L237.70,391.50 L242.60,396.00 L237.70,400.50 Z" fill="#111"/><text x="256.5" y="399.3" font-size="12" font-weight="bold" text-anchor="start" fill="#000" stroke="#000" stroke-width="0.4" stroke-linejoin="round" >medium</text><line x1="225.7" y1="413.0" x2="250.2" y2="413.0" stroke="#222" stroke-width="1.5"/><rect x="233.80" y="409.10" width="7.80" height="7.80" fill="#111"/><text x="256.5" y="417.6" font-size="12" font-weight="bold" text-anchor="start" fill="#000" stroke="#000" stroke-width="0.4" stroke-linejoin="round" >IL-6</text><line x1="225.7" y1="431.0" x2="250.2" y2="431.0" stroke="#222" stroke-width="1.5"/><path d="M233.20,434.70 L237.70,426.40 L242.20,434.70 Z" fill="#111"/><text x="256.5" y="435.6" font-size="12" font-weight="bold" text-anchor="start" fill="#000" stroke="#000" stroke-width="0.4" stroke-linejoin="round" >IGF-I</text><line x1="225.7" y1="448.3" x2="250.2" y2="448.3" stroke="#222" stroke-width="1.5"/><circle cx="237.70" cy="448.30" r="3.90" fill="#111"/><text x="256.5" y="452.9" font-size="12" font-weight="bold" text-anchor="start" fill="#000" stroke="#000" stroke-width="0.4" stroke-linejoin="round" >IL-6 + IGF-I</text>
<path d="M382.1,400 L382.1,624.2 L505.8,624.2" stroke="#555" stroke-width="1" fill="none"/><line x1="382.1" y1="624.20" x2="387.6" y2="624.20" stroke="#555" stroke-width="1"/><text x="373.5" y="629.6" font-size="14" font-weight="bold" text-anchor="end" fill="#000" stroke="#000" stroke-width="0.5" stroke-linejoin="round" >0</text><line x1="382.1" y1="586.80" x2="387.6" y2="586.80" stroke="#555" stroke-width="1"/><text x="373.5" y="592.2" font-size="14" font-weight="bold" text-anchor="end" fill="#000" stroke="#000" stroke-width="0.5" stroke-linejoin="round" >2</text><line x1="382.1" y1="549.40" x2="387.6" y2="549.40" stroke="#555" stroke-width="1"/><text x="373.5" y="554.8" font-size="14" font-weight="bold" text-anchor="end" fill="#000" stroke="#000" stroke-width="0.5" stroke-linejoin="round" >4</text><line x1="382.1" y1="512.00" x2="387.6" y2="512.00" stroke="#555" stroke-width="1"/><text x="373.5" y="517.4" font-size="14" font-weight="bold" text-anchor="end" fill="#000" stroke="#000" stroke-width="0.5" stroke-linejoin="round" >6</text><line x1="382.1" y1="474.60" x2="387.6" y2="474.60" stroke="#555" stroke-width="1"/><text x="373.5" y="480.0" font-size="14" font-weight="bold" text-anchor="end" fill="#000" stroke="#000" stroke-width="0.5" stroke-linejoin="round" >8</text><line x1="382.1" y1="437.20" x2="387.6" y2="437.20" stroke="#555" stroke-width="1"/><text x="373.5" y="442.6" font-size="14" font-weight="bold" text-anchor="end" fill="#000" stroke="#000" stroke-width="0.5" stroke-linejoin="round" >10</text><line x1="382.1" y1="399.80" x2="387.6" y2="399.80" stroke="#555" stroke-width="1"/><text x="373.5" y="405.2" font-size="14" font-weight="bold" text-anchor="end" fill="#000" stroke="#000" stroke-width="0.5" stroke-linejoin="round" >12</text><text x="382.9" y="642.5" font-size="14" font-weight="bold" text-anchor="middle" fill="#000" stroke="#000" stroke-width="0.5" stroke-linejoin="round" >0</text><text x="411.2" y="642.5" font-size="14" font-weight="bold" text-anchor="middle" fill="#000" stroke="#000" stroke-width="0.5" stroke-linejoin="round" >2</text><text x="442.6" y="642.5" font-size="14" font-weight="bold" text-anchor="middle" fill="#000" stroke="#000" stroke-width="0.5" stroke-linejoin="round" >4</text><text x="473.2" y="642.5" font-size="14" font-weight="bold" text-anchor="middle" fill="#000" stroke="#000" stroke-width="0.5" stroke-linejoin="round" >6</text><text x="503.8" y="642.5" font-size="14" font-weight="bold" text-anchor="middle" fill="#000" stroke="#000" stroke-width="0.5" stroke-linejoin="round" >8</text><text x="442.2" y="659.8" font-size="14" font-weight="bold" text-anchor="middle" fill="#000" stroke="#000" stroke-width="0.5" stroke-linejoin="round" >days</text><text x="441.5" y="374" font-size="14" font-weight="bold" text-anchor="middle" fill="#000" stroke="#000" stroke-width="0.5" stroke-linejoin="round" >ILKM3</text><path d="M381.30,587.20 L412.20,585.30 L443.00,524.10 L474.00,480.50 L504.80,412.00" stroke="#111" stroke-width="2.3" fill="none" stroke-linejoin="round"/><path d="M412.20,580.50 L412.20,590.00 M407.20,580.50 L417.20,580.50 M407.20,590.00 L417.20,590.00" stroke="#111" stroke-width="1.5" fill="none"/><path d="M443.00,510.00 L443.00,538.20 M438.00,510.00 L448.00,510.00 M438.00,538.20 L448.00,538.20" stroke="#111" stroke-width="1.5" fill="none"/><path d="M474.00,460.00 L474.00,502.20 M469.00,460.00 L479.00,460.00 M469.00,502.20 L479.00,502.20" stroke="#111" stroke-width="1.5" fill="none"/><path d="M504.80,401.10 L504.80,421.70 M499.80,401.10 L509.80,401.10 M499.80,421.70 L509.80,421.70" stroke="#111" stroke-width="1.5" fill="none"/><circle cx="381.30" cy="587.20" r="5.10" fill="#111"/><circle cx="412.20" cy="585.30" r="5.10" fill="#111"/><circle cx="443.00" cy="524.10" r="5.10" fill="#111"/><circle cx="474.00" cy="480.50" r="5.10" fill="#111"/><circle cx="504.80" cy="412.00" r="5.10" fill="#111"/><path d="M381.30,587.20 L412.20,614.30 L443.00,623.70 L474.00,624.20 L504.80,624.20" stroke="#111" stroke-width="2.3" fill="none" stroke-linejoin="round"/><path d="M412.20,609.60 L412.20,618.90 M407.20,609.60 L417.20,609.60 M407.20,618.90 L417.20,618.90" stroke="#111" stroke-width="1.5" fill="none"/><path d="M376.00,587.20 L381.30,582.20 L386.60,587.20 L381.30,592.20 Z" fill="#111"/><path d="M406.90,614.30 L412.20,609.30 L417.50,614.30 L412.20,619.30 Z" fill="#111"/><path d="M437.70,623.70 L443.00,618.70 L448.30,623.70 L443.00,628.70 Z" fill="#111"/><path d="M468.70,624.20 L474.00,619.20 L479.30,624.20 L474.00,629.20 Z" fill="#111"/><path d="M499.50,624.20 L504.80,619.20 L510.10,624.20 L504.80,629.20 Z" fill="#111"/><path d="M381.30,587.20 L412.20,592.80 L443.00,592.80 L474.00,609.10 L504.80,615.70" stroke="#111" stroke-width="2.3" fill="none" stroke-linejoin="round"/><path d="M443.00,587.20 L443.00,598.00 M438.00,587.20 L448.00,587.20 M438.00,598.00 L448.00,598.00" stroke="#111" stroke-width="1.5" fill="none"/><path d="M474.00,604.20 L474.00,614.00 M469.00,604.20 L479.00,604.20 M469.00,614.00 L479.00,614.00" stroke="#111" stroke-width="1.5" fill="none"/><path d="M376.20,591.20 L381.30,581.00 L386.40,591.20 Z" fill="#111"/><path d="M407.10,596.80 L412.20,586.60 L417.30,596.80 Z" fill="#111"/><path d="M437.90,596.80 L443.00,586.60 L448.10,596.80 Z" fill="#111"/><path d="M468.90,613.10 L474.00,602.90 L479.10,613.10 Z" fill="#111"/><path d="M499.70,619.70 L504.80,609.50 L509.90,619.70 Z" fill="#111"/><path d="M381.30,587.20 L412.20,594.40 L443.00,605.90 L474.00,614.70 L504.80,615.00" stroke="#111" stroke-width="2.3" fill="none" stroke-linejoin="round"/><rect x="376.60" y="582.50" width="9.40" height="9.40" fill="#111"/><rect x="407.50" y="589.70" width="9.40" height="9.40" fill="#111"/><rect x="438.30" y="601.20" width="9.40" height="9.40" fill="#111"/><rect x="469.30" y="610.00" width="9.40" height="9.40" fill="#111"/><rect x="500.10" y="610.30" width="9.40" height="9.40" fill="#111"/><line x1="390.0" y1="399.3" x2="414.5" y2="399.3" stroke="#222" stroke-width="1.5"/><path d="M397.10,399.30 L402.00,394.80 L406.90,399.30 L402.00,403.80 Z" fill="#111"/><text x="421.2" y="400.8" font-size="12" font-weight="bold" text-anchor="start" fill="#000" stroke="#000" stroke-width="0.4" stroke-linejoin="round" >medium</text><line x1="390.0" y1="415.8" x2="414.5" y2="415.8" stroke="#222" stroke-width="1.5"/><rect x="398.10" y="411.90" width="7.80" height="7.80" fill="#111"/><text x="421.2" y="419.8" font-size="12" font-weight="bold" text-anchor="start" fill="#000" stroke="#000" stroke-width="0.4" stroke-linejoin="round" >IL-6</text><line x1="390.0" y1="434.2" x2="414.5" y2="434.2" stroke="#222" stroke-width="1.5"/><path d="M397.50,437.90 L402.00,429.60 L406.50,437.90 Z" fill="#111"/><text x="421.2" y="437.8" font-size="12" font-weight="bold" text-anchor="start" fill="#000" stroke="#000" stroke-width="0.4" stroke-linejoin="round" >IGF-I</text><line x1="390.0" y1="452.2" x2="414.5" y2="452.2" stroke="#222" stroke-width="1.5"/><circle cx="402.00" cy="452.20" r="3.90" fill="#111"/><text x="421.2" y="455.2" font-size="12" font-weight="bold" text-anchor="start" fill="#000" stroke="#000" stroke-width="0.4" stroke-linejoin="round" >IL-6 + IGF-I</text>
<text x="0.8" y="703.3" font-size="28" font-weight="bold" text-anchor="start" fill="#000" stroke="#000" stroke-width="0.4" stroke-linejoin="round" >C</text>
<text transform="translate(28.3 783.3) rotate(-90)" font-size="14" font-weight="bold" text-anchor="middle" stroke="#000" stroke-width="0.5" stroke-linejoin="round">Cell counts</text>
<path d="M42.39,857.53 L96.11,857.12 L96.51,850.06 L97.52,856.72 L98.73,849.05 L99.54,856.11 L101.16,842.99 L102.16,855.11 L103.58,850.06 L104.79,844.00 L105.80,856.11 L107.21,850.06 L110.24,850.06 L110.85,843.39 L111.86,850.06 L113.27,850.06 L113.88,857.12 L114.89,843.39 L115.69,850.06 L118.32,850.06 L119.33,857.12 L119.73,850.06 L122.36,850.06 L122.96,844.00 L124.38,849.05 L125.39,834.91 L126.40,840.97 L127.81,820.78 L129.02,824.81 L130.44,806.64 L131.45,798.56 L132.05,787.46 L133.06,794.52 L134.07,788.47 L134.68,756.16 L135.48,780.39 L136.49,764.23 L137.10,776.35 L137.91,755.15 L138.72,772.31 L139.52,768.27 L140.94,749.09 L141.54,780.39 L142.55,790.48 L143.16,800.58 L144.57,808.66 L145.58,802.60 L146.19,820.78 L147.20,832.89 L148.21,824.81 L149.22,838.95 L150.63,849.05 L151.64,850.06 L152.65,856.72 L154.06,850.06 L155.27,856.11 L156.69,850.06 L157.29,856.72 L184.35,856.32" stroke="#111" stroke-width="1.7" fill="none" stroke-linejoin="round"/><path d="M134.68,786.45 L135.28,768.27 L136.09,785.44 L136.70,766.25 L137.50,789.47 L138.11,762.21 L138.92,787.46 L139.73,770.29 L140.53,791.49 L141.34,776.35 L142.15,797.55" stroke="#1a1a1a" stroke-width="1.5" fill="none" stroke-linejoin="round"/><path d="M42.3,857.8 L42.3,710.6" stroke="#333" stroke-width="1.0" fill="none"/><path d="M41.8,710.6 L184.4,711.2" stroke="#2a2a2a" stroke-width="1.2" fill="none"/><path d="M184.4,710.6 L184.4,857.8" stroke="#333" stroke-width="1" fill="none"/><path d="M42.3,857.8 L184.4,857.0" stroke="#1a1a1a" stroke-width="1.7" fill="none"/><path d="M53.0,858.1 v1.7 M59.2,858.1 v1.7 M63.7,858.1 v1.7 M67.1,858.1 v1.7 M69.9,858.1 v1.7 M72.3,858.1 v1.7 M74.4,858.1 v1.7 M76.2,858.1 v1.7 M77.8,858.1 v2.4 M88.5,858.1 v1.7 M94.8,858.1 v1.7 M99.2,858.1 v1.7 M102.7,858.1 v1.7 M105.5,858.1 v1.7 M107.8,858.1 v1.7 M109.9,858.1 v1.7 M111.7,858.1 v1.7 M113.4,858.1 v2.4 M124.0,858.1 v1.7 M130.3,858.1 v1.7 M134.7,858.1 v1.7 M138.2,858.1 v1.7 M141.0,858.1 v1.7 M143.4,858.1 v1.7 M145.4,858.1 v1.7 M147.2,858.1 v1.7 M148.9,858.1 v2.4 M159.6,858.1 v1.7 M165.8,858.1 v1.7 M170.3,858.1 v1.7 M173.7,858.1 v1.7 M176.5,858.1 v1.7 M178.9,858.1 v1.7 M181.0,858.1 v1.7 M182.8,858.1 v1.7 " stroke="#333" stroke-width="0.8" fill="none"/><line x1="99.3" y1="798.0" x2="184.4" y2="798.0" stroke="#111" stroke-width="1.5"/><line x1="100.1" y1="795.0" x2="100.1" y2="791.5" stroke="#222" stroke-width="1"/><line x1="42.0" y1="746.1" x2="42.0" y2="748.6999999999999" stroke="#222" stroke-width="1.4"/><line x1="42.0" y1="783.0" x2="42.0" y2="785.5999999999999" stroke="#222" stroke-width="1.4"/><line x1="42.0" y1="819.7" x2="42.0" y2="822.3" stroke="#222" stroke-width="1.4"/><text x="39.20" y="872.0" font-size="9.4" font-weight="bold" letter-spacing="-0.6" stroke="#000" stroke-width="0.35">10<tspan font-size="7" dy="-2.0" dx="0.7" letter-spacing="-0.2">-1</tspan></text><text x="71.30" y="872.0" font-size="9.4" font-weight="bold" letter-spacing="-0.6" stroke="#000" stroke-width="0.35">10<tspan font-size="7" dy="-2.0" dx="0.7" letter-spacing="-0.2">0</tspan></text><text x="103.50" y="872.0" font-size="9.4" font-weight="bold" letter-spacing="-0.6" stroke="#000" stroke-width="0.35">10<tspan font-size="7" dy="-2.0" dx="0.7" letter-spacing="-0.2">1</tspan></text><text x="139.00" y="872.0" font-size="9.4" font-weight="bold" letter-spacing="-0.6" stroke="#000" stroke-width="0.35">10<tspan font-size="7" dy="-2.0" dx="0.7" letter-spacing="-0.2">2</tspan></text><text x="170.80" y="872.0" font-size="9.4" font-weight="bold" letter-spacing="-0.6" stroke="#000" stroke-width="0.35">10<tspan font-size="7" dy="-2.0" dx="0.7" letter-spacing="-0.2">3</tspan></text><text x="173.7" y="730.4" font-size="14" font-weight="bold" text-anchor="end" fill="#000" stroke="#000" stroke-width="0.5" stroke-linejoin="round" >NOP2</text><text x="89.2" y="891.2" font-size="14" font-weight="bold" stroke="#000" stroke-width="0.5">IL-6R</text><text transform="translate(124.40 891.2) scale(1.17 1)" font-size="12.8" font-weight="normal" stroke="#000" stroke-width="0.3" font-family="'DejaVu Sans', sans-serif">α</text>
<path d="M208.08,858.28 L227.26,858.28 L227.87,853.23 L228.68,858.28 L230.29,854.24 L231.30,858.28 L232.71,852.63 L233.93,857.88 L235.34,852.22 L236.75,857.27 L238.37,851.82 L239.98,856.26 L241.40,852.22 L242.81,857.27 L244.02,852.22 L246.04,846.16 L247.46,840.11 L248.47,843.13 L249.47,836.07 L250.89,838.09 L252.10,825.97 L253.51,813.85 L254.52,805.78 L255.53,813.85 L256.54,797.70 L257.55,791.64 L258.56,785.58 L259.57,755.29 L260.58,775.48 L261.59,747.21 L262.60,769.43 L263.61,757.31 L264.62,777.50 L265.02,751.25 L266.24,765.39 L267.25,736.11 L268.26,759.33 L269.06,775.48 L269.87,753.27 L270.68,773.47 L271.49,769.43 L272.70,775.48 L273.51,783.56 L274.31,791.64 L275.32,805.78 L276.33,809.81 L277.54,821.93 L278.76,830.01 L279.77,840.11 L280.78,842.12 L282.39,850.20 L283.80,854.24 L285.22,858.28 L286.83,854.24 L288.05,858.28 L289.86,855.86 L290.87,858.28 L351.45,857.88" stroke="#222" stroke-width="1.3" fill="none" stroke-linejoin="round"/><path d="M259.37,785.58 L260.18,765.39 L260.99,783.56 L262.00,759.33 L262.80,785.58 L263.81,763.37 L264.62,787.60 L265.63,759.33 L266.64,785.58 L267.45,753.27 L268.26,787.60 L269.26,763.37 L270.07,789.62 L271.08,773.47 L272.09,791.64 L273.10,783.56" stroke="#1a1a1a" stroke-width="1.1" fill="none" stroke-linejoin="round"/><path d="M208.1,859.2 L208.1,711.6" stroke="#333" stroke-width="1.0" fill="none"/><path d="M207.6,710.8 L300,711.2 L351.6,712.2" stroke="#222" stroke-width="1.4" fill="none"/><path d="M351.3,711.6 L351.3,859.2" stroke="#333" stroke-width="1" fill="none"/><path d="M208.1,859.2 L351.3,858.4000000000001" stroke="#1a1a1a" stroke-width="1.7" fill="none"/><path d="M218.9,859.5 v1.7 M225.2,859.5 v1.7 M229.7,859.5 v1.7 M233.1,859.5 v1.7 M236.0,859.5 v1.7 M238.4,859.5 v1.7 M240.4,859.5 v1.7 M242.3,859.5 v1.7 M243.9,859.5 v2.4 M254.7,859.5 v1.7 M261.0,859.5 v1.7 M265.5,859.5 v1.7 M268.9,859.5 v1.7 M271.8,859.5 v1.7 M274.2,859.5 v1.7 M276.2,859.5 v1.7 M278.1,859.5 v1.7 M279.7,859.5 v2.4 M290.5,859.5 v1.7 M296.8,859.5 v1.7 M301.3,859.5 v1.7 M304.7,859.5 v1.7 M307.6,859.5 v1.7 M310.0,859.5 v1.7 M312.0,859.5 v1.7 M313.9,859.5 v1.7 M315.5,859.5 v2.4 M326.3,859.5 v1.7 M332.6,859.5 v1.7 M337.1,859.5 v1.7 M340.5,859.5 v1.7 M343.4,859.5 v1.7 M345.8,859.5 v1.7 M347.8,859.5 v1.7 M349.7,859.5 v1.7 " stroke="#333" stroke-width="0.8" fill="none"/><line x1="265.8" y1="800.5" x2="351.3" y2="800.5" stroke="#111" stroke-width="1.2"/><line x1="266.6" y1="797.5" x2="266.6" y2="794.0" stroke="#222" stroke-width="1"/><line x1="207.79999999999998" y1="746.7" x2="207.79999999999998" y2="749.3" stroke="#222" stroke-width="1.4"/><line x1="207.79999999999998" y1="783.7" x2="207.79999999999998" y2="786.3" stroke="#222" stroke-width="1.4"/><line x1="207.79999999999998" y1="820.7" x2="207.79999999999998" y2="823.3" stroke="#222" stroke-width="1.4"/><text x="206.00" y="871.8" font-size="9.4" font-weight="bold" letter-spacing="-0.6" stroke="#000" stroke-width="0.35">10<tspan font-size="7" dy="-2.0" dx="0.7" letter-spacing="-0.2">-1</tspan></text><text x="238.60" y="871.8" font-size="9.4" font-weight="bold" letter-spacing="-0.6" stroke="#000" stroke-width="0.35">10<tspan font-size="7" dy="-2.0" dx="0.7" letter-spacing="-0.2">0</tspan></text><text x="270.00" y="871.8" font-size="9.4" font-weight="bold" letter-spacing="-0.6" stroke="#000" stroke-width="0.35">10<tspan font-size="7" dy="-2.0" dx="0.7" letter-spacing="-0.2">1</tspan></text><text x="304.40" y="871.8" font-size="9.4" font-weight="bold" letter-spacing="-0.6" stroke="#000" stroke-width="0.35">10<tspan font-size="7" dy="-2.0" dx="0.7" letter-spacing="-0.2">2</tspan></text><text x="336.10" y="871.8" font-size="9.4" font-weight="bold" letter-spacing="-0.6" stroke="#000" stroke-width="0.35">10<tspan font-size="7" dy="-2.0" dx="0.7" letter-spacing="-0.2">3</tspan></text><text x="336.5" y="731.7" font-size="14" font-weight="bold" text-anchor="end" fill="#000" stroke="#000" stroke-width="0.5" stroke-linejoin="round" >ILKM2</text><text x="256.5" y="892.3" font-size="14" font-weight="bold" stroke="#000" stroke-width="0.5">IL-6R</text><text transform="translate(291.70 892.3) scale(1.17 1)" font-size="12.8" font-weight="normal" stroke="#000" stroke-width="0.3" font-family="'DejaVu Sans', sans-serif">α</text>
<path d="M374.29,859.48 L395.29,858.47 L403.37,855.44 L409.43,849.39 L413.47,840.30 L416.49,826.16 L419.52,803.95 L422.55,777.70 L424.57,757.50 L425.99,739.33 L426.59,735.29 L427.60,737.31 L429.62,719.14 L430.63,733.27 L432.65,749.43 L434.67,761.54 L436.69,785.78 L438.71,805.97 L440.73,826.16 L442.75,844.34 L444.77,853.42 L447.79,858.47 L516.86,859.28" stroke="#444" stroke-width="1.0" fill="none" stroke-linejoin="round"/><path d="M374.2,859.8 L374.2,712.6" stroke="#333" stroke-width="1.0" fill="none"/><path d="M373.7,713.2 Q445,710.4 517.2,713.0" stroke="#222" stroke-width="1.7" fill="none"/><path d="M516.8,712.6 L516.8,859.8" stroke="#333" stroke-width="1" fill="none"/><path d="M374.2,859.8 L516.8,859.0" stroke="#1a1a1a" stroke-width="1.7" fill="none"/><path d="M384.9,860.1 v1.7 M391.2,860.1 v1.7 M395.7,860.1 v1.7 M399.1,860.1 v1.7 M401.9,860.1 v1.7 M404.3,860.1 v1.7 M406.4,860.1 v1.7 M408.2,860.1 v1.7 M409.8,860.1 v2.4 M420.6,860.1 v1.7 M426.9,860.1 v1.7 M431.3,860.1 v1.7 M434.8,860.1 v1.7 M437.6,860.1 v1.7 M440.0,860.1 v1.7 M442.0,860.1 v1.7 M443.9,860.1 v1.7 M445.5,860.1 v2.4 M456.2,860.1 v1.7 M462.5,860.1 v1.7 M467.0,860.1 v1.7 M470.4,860.1 v1.7 M473.2,860.1 v1.7 M475.6,860.1 v1.7 M477.7,860.1 v1.7 M479.5,860.1 v1.7 M481.1,860.1 v2.4 M491.9,860.1 v1.7 M498.2,860.1 v1.7 M502.6,860.1 v1.7 M506.1,860.1 v1.7 M508.9,860.1 v1.7 M511.3,860.1 v1.7 M513.3,860.1 v1.7 M515.2,860.1 v1.7 " stroke="#333" stroke-width="0.8" fill="none"/><line x1="432" y1="799.6" x2="516.8" y2="799.6" stroke="#111" stroke-width="1.2"/><line x1="432.8" y1="796.6" x2="432.8" y2="793.1" stroke="#222" stroke-width="1"/><line x1="373.9" y1="747.7" x2="373.9" y2="750.3" stroke="#222" stroke-width="1.4"/><line x1="373.9" y1="784.7" x2="373.9" y2="787.3" stroke="#222" stroke-width="1.4"/><line x1="373.9" y1="821.7" x2="373.9" y2="824.3" stroke="#222" stroke-width="1.4"/><text x="371.50" y="872.3" font-size="9.4" font-weight="bold" letter-spacing="-0.6" stroke="#000" stroke-width="0.35">10<tspan font-size="7" dy="-2.0" dx="0.7" letter-spacing="-0.2">-1</tspan></text><text x="402.90" y="872.3" font-size="9.4" font-weight="bold" letter-spacing="-0.6" stroke="#000" stroke-width="0.35">10<tspan font-size="7" dy="-2.0" dx="0.7" letter-spacing="-0.2">0</tspan></text><text x="436.10" y="872.3" font-size="9.4" font-weight="bold" letter-spacing="-0.6" stroke="#000" stroke-width="0.35">10<tspan font-size="7" dy="-2.0" dx="0.7" letter-spacing="-0.2">1</tspan></text><text x="472.10" y="872.3" font-size="9.4" font-weight="bold" letter-spacing="-0.6" stroke="#000" stroke-width="0.35">10<tspan font-size="7" dy="-2.0" dx="0.7" letter-spacing="-0.2">2</tspan></text><text x="501.40" y="872.3" font-size="9.4" font-weight="bold" letter-spacing="-0.6" stroke="#000" stroke-width="0.35">10<tspan font-size="7" dy="-2.0" dx="0.7" letter-spacing="-0.2">3</tspan></text><text x="503.8" y="731.7" font-size="14" font-weight="bold" text-anchor="end" fill="#000" stroke="#000" stroke-width="0.5" stroke-linejoin="round" >ILKM3</text><text x="421.8" y="892.9" font-size="14" font-weight="bold" stroke="#000" stroke-width="0.5">IL-6R</text><text transform="translate(457.00 892.9) scale(1.17 1)" font-size="12.8" font-weight="normal" stroke="#000" stroke-width="0.3" font-family="'DejaVu Sans', sans-serif">α</text>
</svg>
</body></html>
